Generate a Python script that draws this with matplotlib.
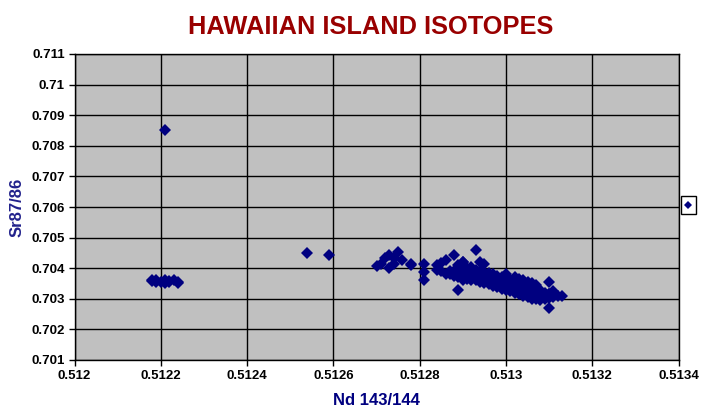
import matplotlib
matplotlib.use("Agg")
import matplotlib.pyplot as plt
from matplotlib.lines import Line2D

plt.rcParams['font.family'] = ['Liberation Sans', 'DejaVu Sans']

# Nd 143/144 vs Sr 87/86
# old group near 0.5122
old_nd = [0.51218, 0.51218, 0.51219, 0.51220, 0.51221, 0.51221, 0.51222,
          0.51222, 0.51223, 0.51224, 0.51224, 0.51219, 0.51221]
old_sr = [0.70358, 0.70362, 0.70360, 0.70356, 0.70360, 0.70352, 0.70357,
          0.70354, 0.70360, 0.70356, 0.70352, 0.70355, 0.70852]

# scattered points
mid_nd = [0.51254, 0.51259,
          0.51270, 0.51271, 0.51272, 0.51273, 0.51275, 0.51274, 0.51273,
          0.51274, 0.51276, 0.51278, 0.51278, 0.51281, 0.51281, 0.51281,
          0.51284, 0.51285, 0.51286, 0.51288, 0.51293, 0.51294, 0.51295,
          0.51290, 0.51284, 0.51285, 0.51286, 0.51289, 0.51290, 0.51300,
          0.51310, 0.51310, 0.51311, 0.51313, 0.51310, 0.51289, 0.51290,
          0.51292]
mid_sr = [0.70451, 0.70442,
          0.70406, 0.70415, 0.70434, 0.70442, 0.70453, 0.70434, 0.70402,
          0.70413, 0.70426, 0.70415, 0.70409, 0.70415, 0.70387, 0.70360,
          0.70409, 0.70417, 0.70426, 0.70442, 0.70461, 0.70420, 0.70415,
          0.70420, 0.70393, 0.70390, 0.70382, 0.70330, 0.70360, 0.70382,
          0.70354, 0.70316, 0.70324, 0.70308, 0.70270, 0.70410, 0.70420,
          0.70405]

# dense band around 0.513, one column of Sr values per Nd value
band_nd = [0.51287, 0.51288, 0.51289, 0.51290, 0.51291, 0.51292, 0.51293,
           0.51294, 0.51295, 0.51296, 0.51297, 0.51298, 0.51299, 0.51300,
           0.51301, 0.51302, 0.51303, 0.51304, 0.51305, 0.51306, 0.51307,
           0.51308, 0.51309, 0.51310, 0.51311, 0.51312]
band_sr = [
    [0.70380, 0.70390],
    [0.70375, 0.70390],
    [0.70370, 0.70385, 0.70400],
    [0.70370, 0.70380, 0.70395],
    [0.70365, 0.70378, 0.70390, 0.70400],
    [0.70360, 0.70375, 0.70388, 0.70400],
    [0.70360, 0.70370, 0.70383, 0.70395],
    [0.70355, 0.70368, 0.70380, 0.70390],
    [0.70350, 0.70362, 0.70375, 0.70388],
    [0.70348, 0.70360, 0.70372, 0.70385],
    [0.70342, 0.70355, 0.70368, 0.70380],
    [0.70338, 0.70350, 0.70363, 0.70376],
    [0.70332, 0.70345, 0.70358, 0.70370],
    [0.70328, 0.70340, 0.70352, 0.70365],
    [0.70325, 0.70336, 0.70348, 0.70360],
    [0.70320, 0.70332, 0.70345, 0.70358, 0.70370],
    [0.70315, 0.70328, 0.70340, 0.70352, 0.70365],
    [0.70310, 0.70322, 0.70335, 0.70348, 0.70360],
    [0.70305, 0.70318, 0.70330, 0.70342, 0.70355],
    [0.70300, 0.70312, 0.70325, 0.70338, 0.70350],
    [0.70298, 0.70310, 0.70320, 0.70332, 0.70345],
    [0.70295, 0.70305, 0.70318, 0.70330],
    [0.70298, 0.70310, 0.70320],
    [0.70302, 0.70315],
    [0.70305, 0.70318],
    [0.70308],
]

x_ticks = [0.512, 0.5122, 0.5124, 0.5126, 0.5128, 0.513, 0.5132, 0.5134]
x_labels = ["0.512", "0.5122", "0.5124", "0.5126", "0.5128", "0.513",
            "0.5132", "0.5134"]
y_ticks = [0.701, 0.702, 0.703, 0.704, 0.705, 0.706, 0.707, 0.708, 0.709,
           0.71, 0.711]
y_labels = ["0.701", "0.702", "0.703", "0.704", "0.705", "0.706", "0.707",
            "0.708", "0.709", "0.71", "0.711"]

nd = old_nd + mid_nd
sr = old_sr + mid_sr
for xv, col in zip(band_nd, band_sr):
    nd += [xv] * len(col)
    sr += col

NAVY = "#000080"

fig = plt.figure(figsize=(7.12, 4.18), dpi=100)
ax = fig.add_axes([74.5 / 712, 1 - 360 / 418, (678.5 - 74.5) / 712, (360 - 54) / 418])
ax.set_facecolor("#C0C0C0")

ax.plot(nd, sr, "D", color=NAVY, ms=6, mew=0, zorder=3)

ax.set_xlim(0.512, 0.5134)
ax.set_ylim(0.701, 0.711)
ax.set_xticks(x_ticks, x_labels)
ax.set_yticks(y_ticks, y_labels)
ax.grid(True, color="black", lw=1)
ax.set_axisbelow(True)
for s in ax.spines.values():
    s.set_color("black")
    s.set_linewidth(1)
ax.tick_params(direction="out", length=4, width=1, labelsize=9.5, pad=3)
for lab in ax.get_xticklabels() + ax.get_yticklabels():
    lab.set_fontweight("bold")

ax.set_xlabel("Nd 143/144", color=NAVY, fontsize=12, fontweight="bold", labelpad=8)
ax.set_ylabel("Sr87/86", color="#22228c", fontsize=12, fontweight="bold")
ax.yaxis.set_label_coords(-0.083, 0.5)

fig.text(0.521, 1 - 27 / 418, "HAWAIIAN ISLAND ISOTOPES", color="#990000",
         fontsize=18.3, fontweight="bold", ha="center", va="center")

handle = Line2D([], [], marker="D", ls="none", color=NAVY, ms=4, mew=0)
fig.legend([handle], [""], loc="center left",
           bbox_to_anchor=(680.5 / 712, 1 - 205 / 418), handlelength=0.8,
           handletextpad=0, borderpad=0.4, borderaxespad=0, fancybox=False,
           edgecolor="black", framealpha=1, fontsize=7)

fig.savefig("out.png", dpi=100)
